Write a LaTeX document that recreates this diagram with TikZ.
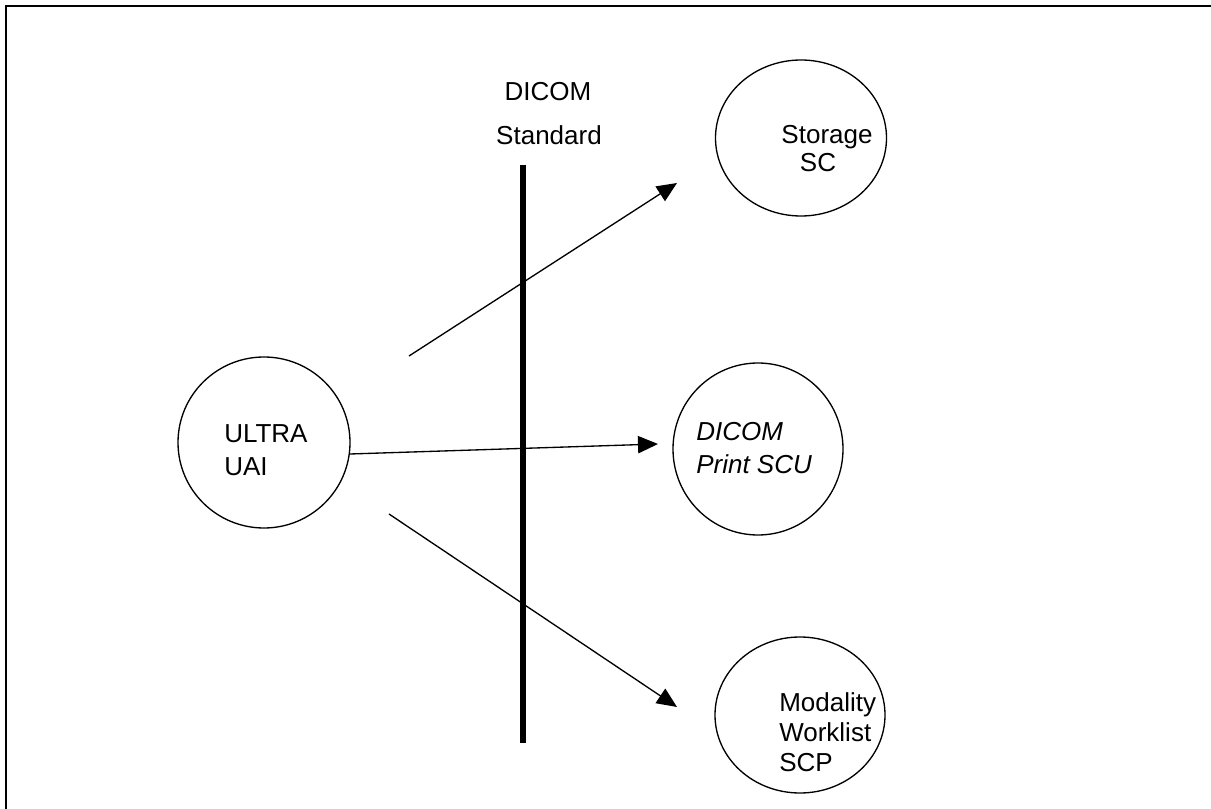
\documentclass[tikz,border=0pt]{standalone}
\usepackage{fontspec}
\setmainfont{Liberation Sans}
\usetikzlibrary{shapes.geometric,arrows.meta}
\begin{document}
\begin{tikzpicture}[x=0.75pt,y=-0.75pt,
  circ/.style={draw,ellipse,line width=1pt,inner sep=0pt},
  lbl/.style={inner sep=0pt,font=\fontsize{19.5}{24.75}\selectfont},
  conn/.style={line width=1pt,-{Triangle[length=15pt,width=13pt]}},
  frameline/.style={line width=1.6pt}]
\useasboundingbox (0,0) rectangle (1211,809);
% frame
\coordinate (ftl) at (6,6);
\coordinate (ftr) at (1211,6);
\coordinate (fbl) at (6,809);
\draw[frameline] (ftr) -- (ftl) -- (fbl);
% standard line
\coordinate (stdtop) at (523,165);
\coordinate (stdbot) at (523,743);
\draw[line width=4.5pt] (stdtop) -- (stdbot);
\node[lbl,anchor=north] (dicomt) at (548,82) {DICOM};
\node[lbl,anchor=north] (stdt) at (549,125) {Standard};
% circles
\node[circ,minimum width=128.25pt,minimum height=117pt] (storage) at (801,138) {};
\node[lbl,anchor=north] (storaget) at (827,125) {Storage};
\node[lbl,anchor=north] (sct) at (818,153) {SC};
\node[circ,minimum width=129pt,minimum height=128.25pt] (ultra) at (264,442.5) {};
\node[lbl,anchor=north west,align=left] (ultrat) at (224,424) {ULTRA\\UAI};
\node[circ,minimum width=127.5pt,minimum height=129pt] (print) at (758,449) {};
\node[lbl,anchor=north west,align=left,font=\fontsize{19.5}{24.75}\selectfont\itshape] (printt) at (696,422) {DICOM\\Print SCU};
\node[circ,minimum width=127.5pt,minimum height=117pt] (modality) at (800,715) {};
\node[lbl,anchor=north west,align=left,font=\fontsize{19.5}{22.5}\selectfont] (modt) at (779,692) {Modality\\Worklist\\SCP};
% connectors
\coordinate (a1s) at (409,356);
\coordinate (a1e) at (677,183);
\coordinate (a2s) at (350,454);
\coordinate (a2e) at (658,444);
\coordinate (a3s) at (389,514);
\coordinate (a3e) at (677,707);
\draw[conn] (a1s) -- (a1e);
\draw[conn] (a2s) -- (a2e);
\draw[conn] (a3s) -- (a3e);
\end{tikzpicture}
\end{document}
